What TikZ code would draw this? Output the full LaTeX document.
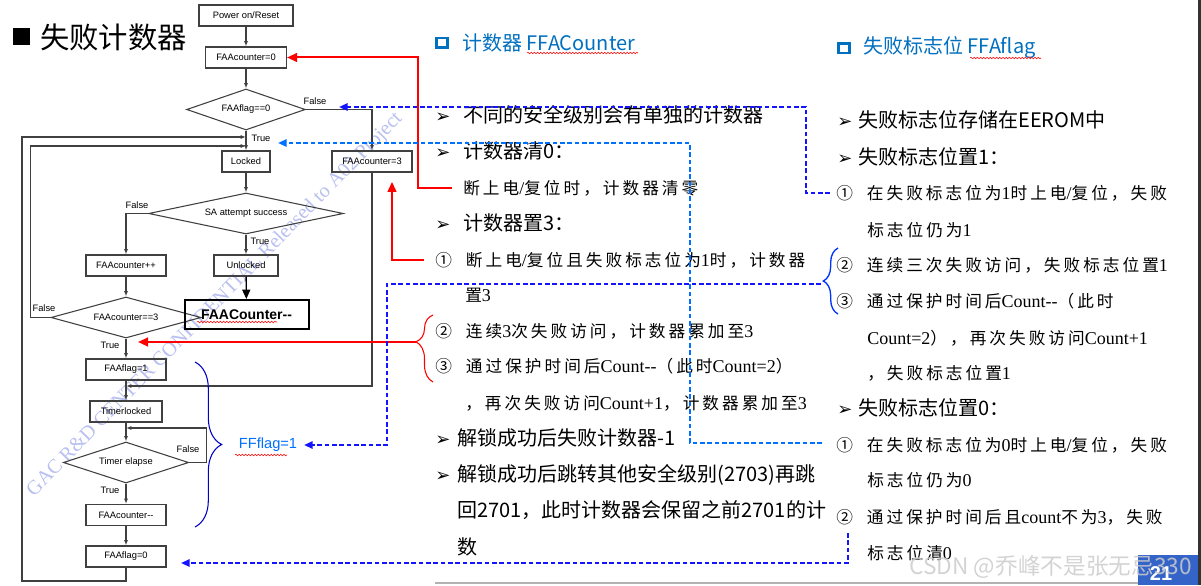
\documentclass[tikz,border=0pt]{standalone}
\usepackage{fontspec}
\setmainfont{Liberation Sans}
\newfontfamily\cjk{Noto Sans CJK SC}
\newfontfamily\cjksong[LetterSpace=18]{Noto Sans CJK SC}
\newfontfamily\latser[Scale=1.08]{Liberation Serif}
\newfontfamily\symfont{DejaVu Sans}
\usetikzlibrary{arrows.meta,shapes.geometric,decorations.pathreplacing,decorations.pathmorphing}

\definecolor{hdblue}{RGB}{0,112,192}
\definecolor{dkblue}{RGB}{20,20,255}
\definecolor{ltblue}{RGB}{0,112,255}
\definecolor{flowgray}{RGB}{64,64,64}
\definecolor{wmblue}{RGB}{185,192,240}
\definecolor{numblue}{RGB}{52,100,200}
\definecolor{brblue}{RGB}{0,0,200}

\newcommand{\tn}[1]{{\latser #1}}
\newcommand{\bul}[1]{\makebox[#1][l]{\symfont\fontsize{13.5}{14}\selectfont ➢}}
\newcommand{\cnum}[1]{\makebox[23pt][l]{#1}}

\begin{document}
\begin{tikzpicture}[x=0.75pt,y=-0.75pt,
  flow/.style={draw=flowgray,line width=0.8pt},
  farr/.style={flow,-{Latex[length=4pt,width=3pt]}},
  fbox/.style={draw=flowgray,line width=0.8pt,inner sep=0pt,minimum height=15.75pt,font=\fontsize{7}{8}\selectfont},
  fdia/.style={diamond,aspect=3,draw=flowgray,line width=0.8pt,inner sep=0pt,minimum height=30.75pt,font=\fontsize{7}{8}\selectfont},
  flab/.style={inner sep=0pt,font=\fontsize{7}{8}\selectfont},
  redline/.style={draw=red,line width=1.5pt,-{Triangle[length=7.5pt,width=6.5pt]}},
  bluedash/.style={draw=dkblue,line width=1.5pt,dash pattern=on 3.5pt off 2pt,-{Triangle[length=6.5pt,width=5.5pt]}},
  ltdash/.style={bluedash,draw=ltblue},
  squig/.style={draw=red,line width=0.4pt,decorate,decoration={snake,amplitude=0.6pt,segment length=2.4pt}},
  txt/.style={anchor=west,inner sep=0pt,font=\cjk\fontsize{15}{18}\selectfont},
  song/.style={anchor=west,inner sep=0pt,font=\cjksong\fontsize{12.5}{15}\selectfont},
  hd/.style={anchor=west,inner sep=0pt,text=hdblue,font=\cjk\fontsize{15}{18}\selectfont}]

  \useasboundingbox (0,0) rectangle (1201,585);
  \fill[white] (0,0) rectangle (1201,585);

  % watermark
  \node[rotate=45.7,text=wmblue,font=\latser\fontsize{14}{16}\selectfont] (wm) at (215,305) {GAC R\&D CENTER CONFIDENTIAL Released to A02 Project};

  % title
  \fill (13,28) rectangle (30,45);
  \node[anchor=west,inner sep=0pt,font=\cjk\fontsize{22}{26}\selectfont] (ttl) at (40,37) {失败计数器};

  % flow chart
  \node[fbox,minimum width=70.5pt] (pwr) at (246,15.5) {Power on/Reset};
  \node[fbox,minimum width=60.75pt] (c0) at (246,57.5) {FAAcounter=0};
  \node[fdia,minimum width=89pt] (flag0) at (246,109.5) {FAAflag==0};
  \node[fbox,minimum width=36pt] (lock) at (246,161.5) {Locked};
  \node[fbox,minimum width=60pt] (c3) at (372,161.5) {FAAcounter=3};
  \node[fdia,minimum width=146pt] (sa) at (246,213.5) {SA attempt success};
  \node[fbox,minimum width=60pt] (cinc) at (126,265.5) {FAAcounter++};
  \node[fbox,minimum width=48pt] (unl) at (246,265.5) {Unlocked};
  \node[fdia,minimum width=112.5pt] (c3q) at (126,317.5) {FAAcounter==3};
  \node[draw=black,line width=1.5pt,inner sep=0pt,minimum width=93pt,minimum height=21.75pt,font=\bfseries\fontsize{10.5}{12}\selectfont] (cdec) at (246.5,314.5) {FAACounter-{}-};
  \node[fbox,minimum width=60pt] (f1) at (126,369.5) {FAAflag=1};
  \node[fbox,minimum width=54pt] (tl) at (126,411.5) {Timerlocked};
  \node[fdia,minimum width=94pt] (te) at (126,462.5) {Timer elapse};
  \node[fbox,minimum width=60pt] (cdec2) at (126,515) {FAAcounter-{}-};
  \node[fbox,minimum width=60pt] (f0) at (126,556.5) {FAAflag=0};

  \node[flab] (lf1) at (315,101) {False};
  \node[flab] (lt1) at (261,138) {True};
  \node[flab] (lf2) at (137,205) {False};
  \node[flab] (lt2) at (260,241) {True};
  \node[flab] (lf3) at (44,308) {False};
  \node[flab] (lt3) at (110,345) {True};
  \node[flab] (lf4) at (188,449) {False};
  \node[flab] (lt4) at (110,490) {True};

  \coordinate (jA) at (246,137);
  \coordinate (jB) at (246,146);
  \coordinate (jC) at (126,386);
  \coordinate (jD) at (126,428);

  \draw[farr] (pwr) -- (c0);
  \draw[farr] (c0) -- (flag0);
  \draw[farr] (flag0.east) -| (c3.north);
  \draw[farr] (flag0) -- (lock);
  \draw[farr] (c3q.west) -- ++(-20,0) |- (jB);
  \draw[farr] (f0.south) |- (22,581) |- (jA);
  \draw[farr] (lock) -- (sa);
  \draw[farr] (sa.west) -| (cinc.north);
  \draw[farr] (sa) -- (unl);
  \draw[draw=black,line width=1pt,-{Triangle[length=7pt,width=6pt]}] (unl) -- (cdec);
  \draw[farr] (cinc) -- (c3q);
  \draw[farr] (c3q) -- (f1);
  \draw[farr] (f1) -- (tl);
  \draw[farr] (c3.south) |- (jC);
  \draw[farr] (tl) -- (te);
  \draw[farr] (te.east) -- ++(17,0) |- (jD);
  \draw[farr] (te) -- (cdec2);
  \draw[farr] (cdec2) -- (f0);

  \draw[squig] (197,322) -- (277,322);

  % FFflag brace
  \draw[brblue,line width=0.8pt,decorate,decoration={brace,amplitude=20pt}] (195,362) -- (195,527);
  \node[inner sep=0pt,text=ltblue,font=\fontsize{11}{13}\selectfont] (ff1) at (268,445) {FFflag=1};
  \draw[squig] (235,455) -- (287,455);

  % headers
  \draw[hdblue,line width=2pt] (436.5,38) rectangle (447.5,47.5);
  \node[hd] (hm) at (462,43) {计数器 FFACounter};
  \draw[squig] (527,53) -- (638,53);
  \draw[hdblue,line width=2pt] (838.5,43.5) rectangle (849.5,53);
  \node[hd] (hr) at (863,48) {失败标志位 FFAflag};
  \draw[squig] (970,58) -- (1041,58);

  % counter column
  \node[txt] (m1) at (435,115) {\bul{21pt}不同的安全级别会有单独的计数器};
  \node[txt] (m2) at (435,151) {\bul{21pt}计数器清0：};
  \node[song] (m3) at (463,188) {断上电\tn{/}复位时，计数器清零};
  \node[txt] (m4) at (435,223) {\bul{21pt}计数器置3：};
  \node[song] (m5) at (435,260) {\cnum{①}断上电\tn{/}复位且失败标志位为\tn{1}时，计数器};
  \node[song] (m6) at (465,295) {置\tn{3}};
  \node[song] (m7) at (435,331) {\cnum{②}连续\tn{3}次失败访问，计数器累加至\tn{3}};
  \node[song] (m8) at (435,366) {\cnum{③}通过保护时间后\tn{Count-{}-}（此时\tn{Count=2}）};
  \node[song] (m9) at (465,403) {，再次失败访问\tn{Count+1}，计数器累加至\tn{3}};
  \node[txt] (m10) at (435,438) {\bul{16.5pt}解锁成功后失败计数器-1};
  \node[txt] (m11) at (435,475) {\bul{16.5pt}解锁成功后跳转其他安全级别(2703)再跳};
  \node[txt] (m12) at (457,510) {回2701，此时计数器会保留之前2701的计};
  \node[txt] (m13) at (457,547) {数};

  % flag column
  \node[txt] (r1) at (837,120) {\bul{15.75pt}失败标志位存储在EEROM中};
  \node[txt] (r2) at (837,157) {\bul{15.75pt}失败标志位置1：};
  \node[song] (r3) at (836,193) {\cnum{①}在失败标志位为\tn{1}时上电\tn{/}复位，失败};
  \node[song] (r4) at (867,230) {标志位仍为\tn{1}};
  \node[song] (r5) at (836,265) {\cnum{②}连续三次失败访问，失败标志位置\tn{1}};
  \node[song] (r6) at (836,301) {\cnum{③}通过保护时间后\tn{Count-{}-}（此时};
  \node[song] (r7) at (867,338) {\tn{Count=2}），再次失败访问\tn{Count+1}};
  \node[song] (r8) at (867,373) {，失败标志位置\tn{1}};
  \node[txt] (r9) at (837,408) {\bul{15.75pt}失败标志位置0：};
  \node[song] (r10) at (836,445) {\cnum{①}在失败标志位为\tn{0}时上电\tn{/}复位，失败};
  \node[song] (r11) at (867,480) {标志位仍为\tn{0}};
  \node[song] (r12) at (836,517) {\cnum{②}通过保护时间后且\tn{count}不为\tn{3}，失败};
  \node[song] (r13) at (867,553) {标志位清\tn{0}};

  % braces
  \draw[red,line width=0.8pt,decorate,decoration={brace,amplitude=12.75pt,aspect=0.6}] (433,382) -- (433,315);
  \draw[blue!80!cyan,line width=1pt,decorate,decoration={brace,amplitude=11pt}] (838,314) -- (838,248);

  % red links
  \coordinate (rz) at (452,188);
  \coordinate (ry) at (424,260);
  \coordinate (rbt) at (416,342);
  \coordinate (rbe) at (138,342);
  \draw[redline] (rz) -- (418,188) |- (c0.east);
  \draw[redline] (ry) -| ([xshift=15pt,yshift=-7pt]c3.south);
  \draw[redline] (rbt) -- (rbe);

  % blue links
  \coordinate (bA) at (830,193);
  \coordinate (bAe) at (339,107);
  \coordinate (bB) at (822,443);
  \coordinate (bBe) at (278,143);
  \coordinate (bC) at (848,533);
  \coordinate (bCe) at (181,563);
  \coordinate (bD) at (821,284);
  \draw[bluedash] (bA) -| (806,107) -- (bAe);
  \draw[ltdash] (bB) -| (690,143) -- (bBe);
  \draw[bluedash] (bC) |- (bCe);
  \draw[bluedash,shorten >=5pt] (bD) -| (387,445) -- (ff1.east);

  % page frame
  \draw[gray!60,line width=0.8pt] (435,583) -- (1138,583);
  \fill[black!80] (1197.5,0) rectangle (1201,585);
  \fill[numblue] (1138,555) rectangle (1197.5,585);
  \node[text=white,font=\bfseries\fontsize{15}{16}\selectfont] (pg) at (1161,574) {21};
  \node[anchor=east,inner sep=0pt,text=gray!40,opacity=0.85,font=\cjk\fontsize{17}{20}\selectfont] (csdn) at (1192,567) {CSDN @乔峰不是张无忌330};
\end{tikzpicture}
\end{document}
